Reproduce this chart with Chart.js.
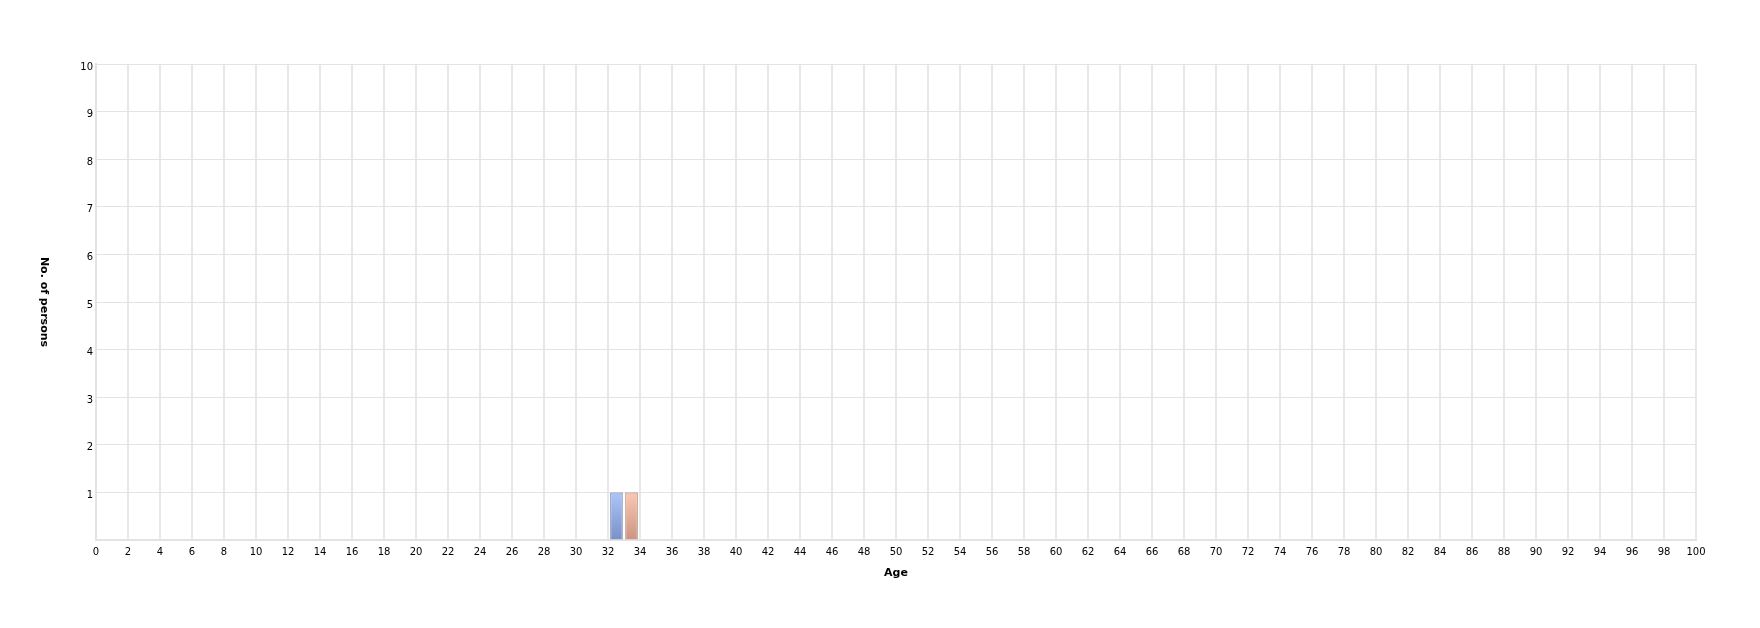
<!DOCTYPE html>
<html>
<head>
<meta charset="utf-8">
<script src="https://cdn.jsdelivr.net/npm/chart.js@4/dist/chart.umd.min.js"></script>
<style>
  html, body { margin: 0; padding: 0; background: #fff; }
  #wrap { width: 1760px; height: 628px; }
</style>
</head>
<body>
<div id="wrap"><canvas id="ageChart" width="1760" height="628"></canvas></div>
<script>
// Data
const ages = [33];
const seriesA = [1];
const seriesB = [1];
const xTitle = "Age";
const yTitle = "No. of persons";

const FONT = "'DejaVu Sans', sans-serif";

function toPoints(values) {
  return ages.map((a, i) => ({ x: a, y: values[i] }));
}

// vertical gradient from bar top to the zero line
function grad(top, bottom) {
  return (ctx) => {
    const chart = ctx.chart;
    const yScale = chart.scales.y;
    if (!chart.chartArea || !yScale || !ctx.raw) return top;
    const y0 = yScale.getPixelForValue(ctx.raw.y);
    const y1 = yScale.getPixelForValue(0);
    const g = chart.ctx.createLinearGradient(0, y0, 0, y1);
    g.addColorStop(0, top);
    g.addColorStop(1, bottom);
    return g;
  };
}

// y title reads top-to-bottom, so draw it ourselves
const yTitlePlugin = {
  id: "yTitle",
  afterDraw(chart) {
    const { ctx, chartArea } = chart;
    ctx.save();
    ctx.translate(44, (chartArea.top + chartArea.bottom) / 2);
    ctx.rotate(Math.PI / 2);
    ctx.font = "bold 11px " + FONT;
    ctx.fillStyle = "#000";
    ctx.textAlign = "center";
    ctx.textBaseline = "middle";
    ctx.fillText(yTitle, 0, 0);
    ctx.restore();
  }
};

new Chart(document.getElementById("ageChart"), {
  type: "bar",
  data: {
    datasets: [
      {
        label: "Series 1",
        data: toPoints(seriesA),
        backgroundColor: grad("#adc5fa", "#7a90c8"),
        borderColor: "#5d6f9e",
        borderWidth: 1
      },
      {
        label: "Series 2",
        data: toPoints(seriesB),
        backgroundColor: grad("#fac8b2", "#cc9482"),
        borderColor: "#9c6f61",
        borderWidth: 1
      }
    ]
  },
  options: {
    responsive: false,
    animation: false,
    categoryPercentage: 0.94,
    barPercentage: 0.83,
    layout: { padding: { top: 64, right: 64, left: 0, bottom: 0 } },
    plugins: {
      legend: { display: false },
      tooltip: { enabled: false }
    },
    scales: {
      x: {
        type: "linear",
        min: 0,
        max: 100,
        offset: false,
        afterFit: (s) => { s.height = 88; },
        border: { color: "#e3e3e3", width: 2 },
        grid: { color: "#e8e8e8", lineWidth: 2, drawTicks: false, offset: false },
        ticks: {
          stepSize: 2,
          autoSkip: false,
          maxRotation: 0,
          padding: 6,
          color: "#000",
          font: { family: FONT, size: 10 }
        },
        title: {
          display: true,
          text: xTitle,
          color: "#000",
          font: { family: FONT, size: 11, weight: "bold" },
          padding: { top: 0, bottom: 48 }
        }
      },
      y: {
        min: 0,
        max: 10,
        afterFit: (s) => { s.width = 96; },
        border: { color: "#e3e3e3", width: 2 },
        grid: { color: "#e3e3e3", lineWidth: 1, drawTicks: false },
        ticks: {
          stepSize: 1,
          padding: 3,
          labelOffset: 3,
          color: "#000",
          font: { family: FONT, size: 10 },
          callback: (v) => (v === 0 ? "" : v)
        }
      }
    }
  },
  plugins: [yTitlePlugin]
});
</script>
</body>
</html>
